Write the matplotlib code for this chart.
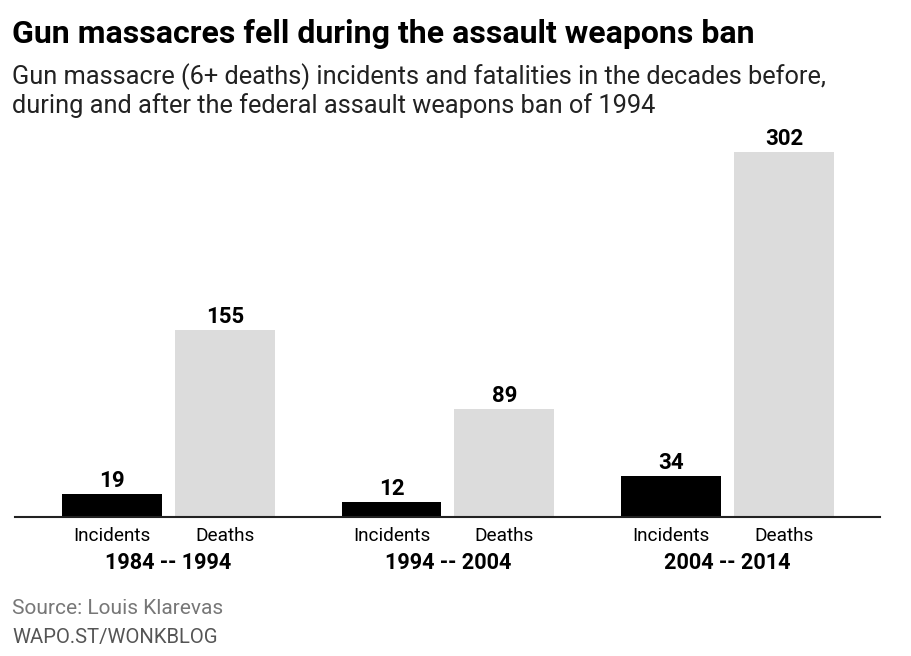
import matplotlib
matplotlib.use("Agg")
import matplotlib.pyplot as plt
import numpy as np

periods = ["1984 -- 1994", "1994 -- 2004", "2004 -- 2014"]
incidents = [19, 12, 34]
deaths = [155, 89, 302]
bar_names = ["Incidents", "Deaths"]

plt.rcParams['font.family'] = ['Roboto', 'DejaVu Sans']

W, H = 911, 656
fig = plt.figure(figsize=(W/100, H/100), dpi=100)
ax_left, ax_right, ax_bottom, ax_top = 15, 880, 517, 140
ax = fig.add_axes([ax_left/W, (H-ax_bottom)/H, (ax_right-ax_left)/W, (ax_bottom-ax_top)/H])

x = np.arange(len(periods))
off = 0.2018
w = 0.357
ax.bar(x - off, incidents, width=w, color="#000000", zorder=2)
ax.bar(x + off, deaths, width=w, color="#dcdcdc", zorder=2)
ax.set_xlim(-0.548, 2.545)
ax.set_ylim(0, (ax_bottom-ax_top)/(365/302))

for xi, v in zip(x - off, incidents):
    ax.annotate(str(v), (xi, v), xytext=(0, 1.5), textcoords="offset points",
                ha="center", va="bottom", fontsize=16, fontweight="bold")
for xi, v in zip(x + off, deaths):
    ax.annotate(str(v), (xi, v), xytext=(0, 1.5), textcoords="offset points",
                ha="center", va="bottom", fontsize=16, fontweight="bold")

for s in ["top", "right", "left"]:
    ax.spines[s].set_visible(False)
ax.spines["bottom"].set_color("#222222")
ax.spines["bottom"].set_linewidth(1.5)
ax.set_yticks([])
ax.set_xticks([])

for xi in x:
    ax.annotate(bar_names[0], (xi - off, 0), xytext=(0, -7), textcoords="offset points",
                ha="center", va="top", fontsize=13.7)
    ax.annotate(bar_names[1], (xi + off, 0), xytext=(0, -7), textcoords="offset points",
                ha="center", va="top", fontsize=13.7)
    ax.annotate(periods[xi], (xi, 0), xytext=(0, -25), textcoords="offset points",
                ha="center", va="top", fontsize=15.6, fontweight="bold")

fig.text(12/W, 1 - 34/H, "Gun massacres fell during the assault weapons ban",
         fontsize=23, fontweight="bold", va="center", ha="left")
fig.text(12/W, 1 - 77/H, "Gun massacre (6+ deaths) incidents and fatalities in the decades before,",
         fontsize=18.3, va="center", ha="left", color="#222222")
fig.text(12/W, 1 - 106/H, "during and after the federal assault weapons ban of 1994",
         fontsize=18.3, va="center", ha="left", color="#222222")
fig.text(12/W, 1 - 608/H, "Source: Louis Klarevas", fontsize=15, va="center", ha="left", color="#777777")
fig.text(12/W, 1 - 637/H, "WAPO.ST/WONKBLOG", fontsize=14.6, va="center", ha="left", color="#555555")

fig.savefig("out.png", dpi=100)
